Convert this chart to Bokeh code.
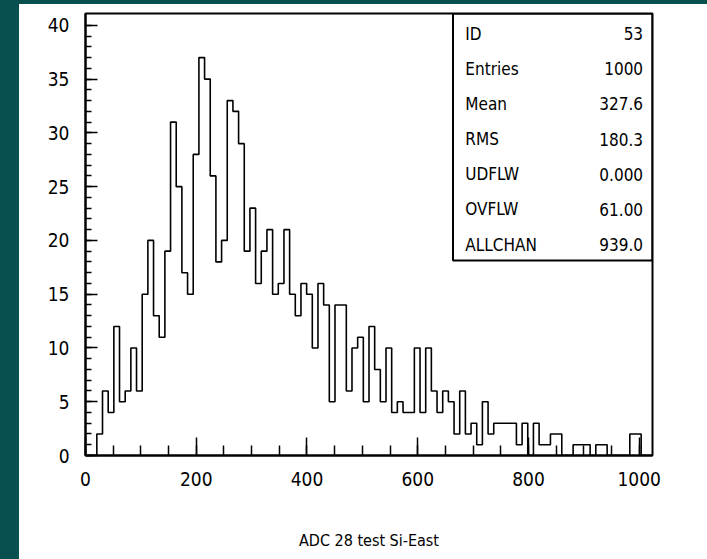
from bokeh.plotting import figure
from bokeh.models import Range1d, FixedTicker, BoxAnnotation
from bokeh.core.properties import value
from bokeh.embed import file_html
from bokeh.resources import INLINE

# ---- data ----
n_bins = 100
x_low, x_high = 0, 1024
bin_counts = [
    0, 0, 2, 6, 4, 12, 5, 6, 10, 6,
    15, 20, 13, 11, 19, 31, 25, 17, 15, 28,
    37, 35, 26, 18, 20, 33, 32, 29, 19, 23,
    16, 19, 21, 15, 16, 21, 15, 13, 16, 15,
    10, 16, 14, 5, 14, 14, 6, 10, 11, 5,
    12, 8, 5, 10, 4, 5, 4, 4, 10, 4,
    10, 6, 4, 6, 5, 2, 6, 2, 3, 1,
    5, 2, 3, 3, 3, 3, 1, 3, 0, 3,
    1, 1, 2, 2, 0, 0, 1, 1, 1, 0,
    1, 1, 0, 0, 0, 0, 2, 2, 0, 0,
]
x_ticks = [0, 200, 400, 600, 800, 1000]
x_minor = [v for v in range(0, 1001, 50)]
y_ticks = [0, 5, 10, 15, 20, 25, 30, 35, 40]
y_minor = list(range(0, 41))
stat_names = ["ID", "Entries", "Mean", "RMS", "UDFLW", "OVFLW", "ALLCHAN"]
stat_values = ["53", "1000", "327.6", "180.3", "0.000", "61.00", "939.0"]
x_title = "ADC 28 test Si-East"

FONT = "DejaVu Sans Condensed"

bin_w = (x_high - x_low) / n_bins
edges = [x_low + i * bin_w for i in range(n_bins + 1)]
step_y = bin_counts + [bin_counts[-1]]

p = figure(width=707, height=559, output_backend="svg", toolbar_location=None,
           x_range=Range1d(x_low, x_high), y_range=Range1d(0, 41.1),
           min_border_left=85, min_border_right=55, min_border_top=13,
           min_border_bottom=104)
p.border_fill_color = None
p.background_fill_color = "white"
p.outline_line_color = "black"
p.outline_line_width = 2
p.xgrid.visible = False
p.ygrid.visible = False

p.step(x=edges, y=step_y, mode="after", line_color="black", line_width=1.6)

for ax in (p.xaxis[0], p.yaxis[0]):
    ax.axis_line_width = 2
    ax.axis_line_color = "black"
    ax.major_tick_out = 0
    ax.minor_tick_out = 0
    ax.major_tick_line_width = 1.5
    ax.minor_tick_line_width = 1.5
    ax.major_label_text_font = FONT
    ax.major_label_text_font_size = "19px"
    ax.major_label_text_color = "black"

p.xaxis.ticker = FixedTicker(ticks=x_ticks, minor_ticks=x_minor)
p.xaxis.major_tick_in = 18
p.xaxis.minor_tick_in = 10
p.xaxis.major_label_standoff = 16
p.xaxis.axis_label = x_title
p.xaxis.axis_label_text_font = FONT
p.xaxis.axis_label_text_font_size = "16px"
p.xaxis.axis_label_text_font_style = "normal"
p.xaxis.axis_label_text_color = "black"
p.xaxis.axis_label_standoff = 42

p.yaxis.ticker = FixedTicker(ticks=y_ticks, minor_ticks=y_minor)
p.yaxis.major_tick_in = 12
p.yaxis.minor_tick_in = 6
p.yaxis.major_label_standoff = 16

# statistics box
box_left, box_bottom = 663.7, 18.14
p.add_layout(BoxAnnotation(left=box_left, right=x_high, bottom=box_bottom, top=41.1,
                           fill_color=None, line_color="black", line_alpha=1.0,
                           line_width=2))
row_top, row_step = 39.23, 3.27
rows = [row_top - i * row_step for i in range(len(stat_names))]
p.text(x=[686] * len(rows), y=rows, text=stat_names, text_font=value(FONT),
       text_font_size="17px", text_baseline="middle", text_align="left",
       text_color="black")
p.text(x=[1007] * len(rows), y=rows, text=stat_values, text_font=value(FONT),
       text_font_size="17px", text_baseline="middle", text_align="right",
       text_color="black")

html = file_html(p, INLINE)
css = ("<style>body{background:"
       "linear-gradient(to bottom,#07504f 0,#07504f 4px,transparent 4px),"
       "linear-gradient(to right,#07504f 0,#07504f 19px,#ffffff 19px);}</style>")
html = html.replace("</head>", css + "</head>", 1)
open("out.html", "w").write(html)
